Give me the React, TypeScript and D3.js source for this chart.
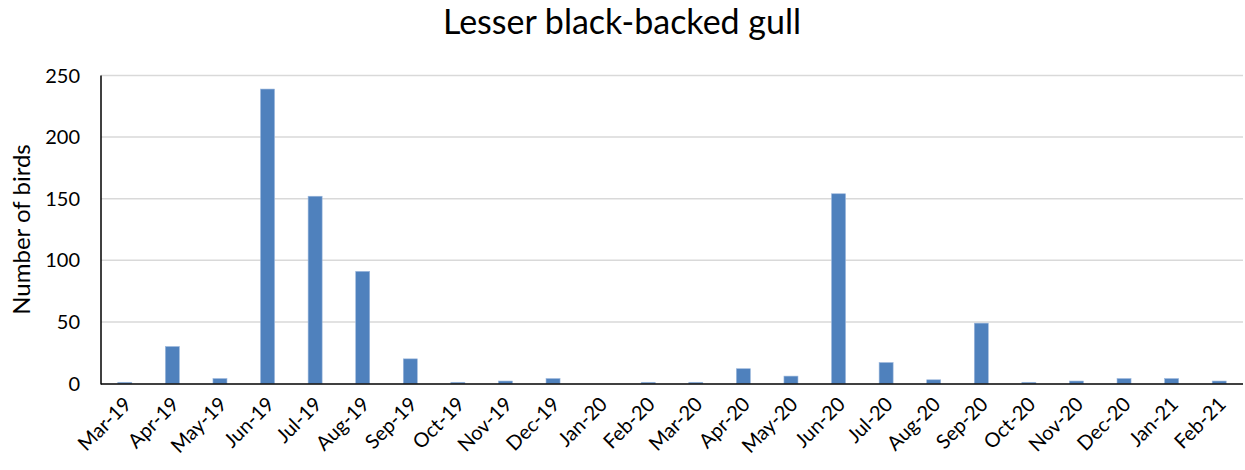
import React from "react";
import * as d3 from "d3";

const months = ["Mar-19","Apr-19","May-19","Jun-19","Jul-19","Aug-19","Sep-19","Oct-19","Nov-19","Dec-19","Jan-20","Feb-20","Mar-20","Apr-20","May-20","Jun-20","Jul-20","Aug-20","Sep-20","Oct-20","Nov-20","Dec-20","Jan-21","Feb-21"];
const birds = [1,30,4,239,152,91,20,1,2,4,0,1,1,12,6,154,17,3,49,1,2,4,4,2];
const yTicks = [0,50,100,150,200,250];

const W = 1245, H = 470;
const left = 101, right = 1243, top = 75.5, bottom = 383.5;
const FONT = "Lato, 'Open Sans', sans-serif";

export default function App() {
  const x = d3.scaleBand<string>().domain(months).range([left, right]).paddingInner(0.7).paddingOuter(0.35);
  const y = d3.scaleLinear().domain([0, 250]).range([bottom, top]);
  const bw = 14;
  return (
    <svg width={W} height={H} style={{ position: "absolute", left: 0, top: 0, background: "#fff" }}>
      <text x={622} y={34} textAnchor="middle" fontFamily={FONT} fontSize={34} fill="#000">Lesser black-backed gull</text>
      {yTicks.map(t => (
        <g key={t}>
          {t > 0 && <line x1={left} x2={right} y1={y(t)} y2={y(t)} stroke="#d9d9d9" strokeWidth={1.5} />}
          <text x={80} y={y(t)} dy="0.35em" textAnchor="end" fontFamily={FONT} fontSize={20} fill="#000">{t}</text>
        </g>
      ))}
      {months.map((m, i) => {
        const cx = (x(m) as number) + x.bandwidth() / 2;
        return (
          <rect key={m} x={cx - bw / 2} y={y(birds[i])} width={bw} height={bottom - y(birds[i])} fill="#4F81BD" stroke="#9bb7dc" strokeWidth={0.6} />
        );
      })}
      <line x1={left} x2={left} y1={top} y2={bottom + 1} stroke="#000" strokeWidth={1.5} />
      <line x1={left} x2={right} y1={bottom + 0.5} y2={bottom + 0.5} stroke="#000" strokeWidth={1.5} />
      {months.map(m => {
        const cx = (x(m) as number) + x.bandwidth() / 2;
        return (
          <text key={m} transform={`translate(${cx + 3},${bottom + 17}) rotate(-45)`} textAnchor="end" fontFamily={FONT} fontSize={20} fill="#000" dy="0.35em">{m}</text>
        );
      })}
      <text transform={`translate(30,${(top + bottom) / 2}) rotate(-90)`} textAnchor="middle" fontFamily={FONT} fontSize={24} fill="#000">Number of birds</text>
    </svg>
  );
}
